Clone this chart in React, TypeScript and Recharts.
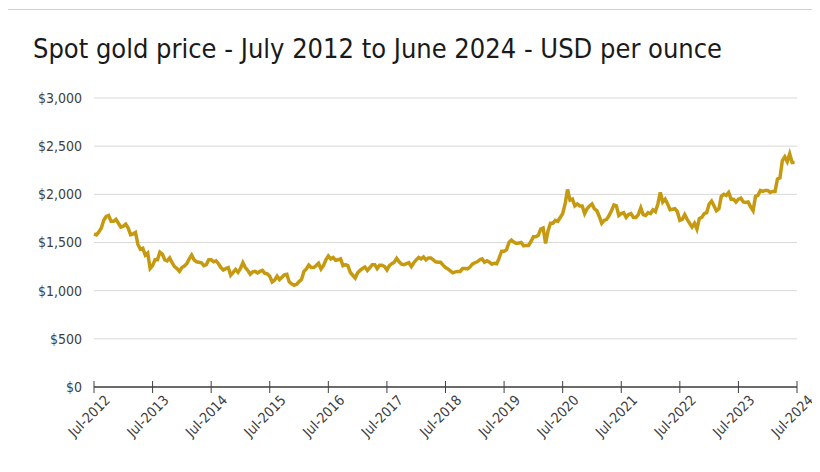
import { LineChart, Line, XAxis, YAxis, CartesianGrid } from 'recharts';

// semi-monthly spot gold price (USD/oz), Jul 2012 – Jun 2024, two readings per month
const prices2012 = [1590, 1580, 1610, 1650, 1730, 1770, 1780, 1720, 1720, 1740, 1700, 1660];
const prices2013 = [
  1670, 1690, 1650, 1580, 1590, 1605, 1480, 1430, 1440, 1370, 1390, 1230,
  1260, 1320, 1320, 1400, 1380, 1320, 1310, 1340, 1290, 1250, 1230, 1200,
];
const prices2014 = [
  1240, 1255, 1280, 1330, 1370, 1320, 1300, 1295, 1290, 1260, 1270, 1320,
  1320, 1300, 1310, 1280, 1240, 1215, 1230, 1240, 1160, 1190, 1220, 1190,
];
const prices2015 = [
  1230, 1290, 1240, 1210, 1170, 1195, 1200, 1185, 1200, 1210, 1180, 1175,
  1150, 1090, 1110, 1150, 1115, 1140, 1165, 1170, 1090, 1070, 1055, 1065,
];
const prices2016 = [
  1095, 1115, 1200, 1225, 1265, 1240, 1240, 1260, 1285, 1225, 1260, 1320,
  1360, 1330, 1345, 1315, 1320, 1330, 1260, 1270, 1260, 1190, 1160, 1130,
];
const prices2017 = [
  1185, 1210, 1230, 1245, 1210, 1240, 1270, 1270, 1230, 1265, 1265, 1250,
  1215, 1260, 1280, 1295, 1335, 1300, 1275, 1270, 1280, 1290, 1250, 1290,
];
const prices2018 = [
  1320, 1345, 1330, 1350, 1320, 1340, 1340, 1320, 1300, 1295, 1295, 1265,
  1240, 1225, 1205, 1185, 1195, 1200, 1200, 1230, 1230, 1225, 1245, 1275,
];
const prices2019 = [
  1290, 1300, 1320, 1330, 1295, 1310, 1295, 1275, 1285, 1280, 1340, 1410,
  1410, 1425, 1500, 1525, 1505, 1490, 1495, 1500, 1465, 1470, 1470, 1510,
];
const prices2020 = [
  1560, 1560, 1575, 1640, 1650, 1490, 1620, 1700, 1700, 1730, 1720, 1760,
  1800, 1900, 2050, 1940, 1950, 1880, 1900, 1880, 1880, 1800, 1850, 1880,
];
const prices2021 = [
  1900, 1850, 1830, 1770, 1700, 1730, 1740, 1780, 1830, 1890, 1880, 1780,
  1800, 1810, 1760, 1790, 1800, 1760, 1760, 1790, 1860, 1790, 1780, 1810,
];
const prices2022 = [
  1800, 1840, 1820, 1900, 2020, 1920, 1950, 1900, 1840, 1845, 1850, 1820,
  1730, 1740, 1790, 1740, 1700, 1660, 1700, 1640, 1750, 1760, 1800, 1810,
];
const prices2023 = [
  1900, 1930, 1880, 1830, 1850, 1980, 2000, 1990, 2020, 1950, 1950, 1920,
  1950, 1960, 1920, 1915, 1920, 1870, 1830, 1980, 1990, 2040, 2030, 2040,
];
const prices2024 = [2040, 2020, 2030, 2030, 2160, 2170, 2350, 2390, 2340, 2420, 2330, 2330];

const tickLabels = [
  'Jul-2012', 'Jul-2013', 'Jul-2014', 'Jul-2015', 'Jul-2016', 'Jul-2017', 'Jul-2018',
  'Jul-2019', 'Jul-2020', 'Jul-2021', 'Jul-2022', 'Jul-2023', 'Jul-2024',
];
const yTicks = [0, 500, 1000, 1500, 2000, 2500, 3000];

const allPrices = [
  ...prices2012, ...prices2013, ...prices2014, ...prices2015, ...prices2016, ...prices2017,
  ...prices2018, ...prices2019, ...prices2020, ...prices2021, ...prices2022, ...prices2023,
  ...prices2024,
];
// t = months since Jul 2012
const data = allPrices.map((price, i) => ({ t: i / 2, price }));
const xTicks = tickLabels.map((_, i) => i * 12);

const FONT = '"DejaVu Sans Condensed", "Open Sans", sans-serif';

const XTick = ({ x, y, payload }: any) => (
  <g transform={`translate(${x},${y})`}>
    <line y1={-6} y2={6} stroke="#404040" strokeWidth={1} />
    <text
      x={2}
      y={22}
      transform="rotate(-45)"
      textAnchor="end"
      fontSize={14}
      fill="#404040"
      fontFamily={FONT}
    >
      {tickLabels[payload.value / 12]}
    </text>
  </g>
);

export default function App() {
  return (
    <div style={{ position: 'relative', margin: -8, width: 820, height: 472, background: '#fff', overflow: 'hidden' }}>
      <div
        style={{
          position: 'absolute',
          left: 6,
          top: 9,
          width: 812,
          height: 470,
          border: '1px solid #d0d0d0',
          boxSizing: 'border-box',
        }}
      />
      <div
        style={{
          position: 'absolute',
          left: 33,
          top: 33,
          fontFamily: FONT,
          fontSize: 27,
          color: '#1a1a1a',
          whiteSpace: 'nowrap',
        }}
      >
        Spot gold price - July 2012 to June 2024 - USD per ounce
      </div>
      <div style={{ position: 'absolute', left: 0, top: 0 }}>
        <LineChart width={820} height={472} data={data} margin={{ top: 98, right: 23, bottom: 0, left: 34 }}>
          <CartesianGrid vertical={false} stroke="#d9d9d9" />
          <XAxis
            dataKey="t"
            type="number"
            domain={[0, 144]}
            ticks={xTicks}
            interval={0}
            height={85}
            tickLine={false}
            tickSize={0}
            tickMargin={0}
            axisLine={{ stroke: '#404040', strokeWidth: 1.5 }}
            tick={<XTick />}
          />
          <YAxis
            domain={[0, 3000]}
            ticks={yTicks}
            width={60}
            axisLine={false}
            tickLine={false}
            tickSize={0}
            tickMargin={12}
            tick={{ fontSize: 14, fill: '#404040', fontFamily: FONT }}
            tickFormatter={(v: number) => `$${v.toLocaleString('en-US')}`}
          />
          <Line
            type="linear"
            dataKey="price"
            stroke="#C69A10"
            strokeWidth={3.5}
            dot={false}
            isAnimationActive={false}
          />
        </LineChart>
      </div>
    </div>
  );
}
